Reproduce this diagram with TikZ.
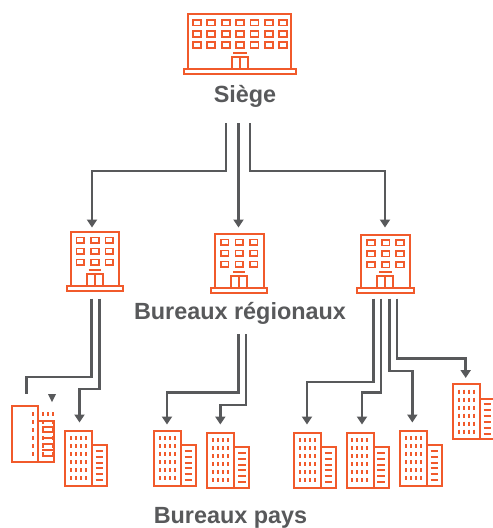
\documentclass[tikz,border=0pt]{standalone}
\usepackage{fontspec}
\setmainfont{Liberation Sans}
\usetikzlibrary{arrows.meta}
\definecolor{orng}{HTML}{F15A2B}
\definecolor{gry}{HTML}{58595B}
\tikzset{
  x=1pt,y=-1pt,
  ln/.style={draw=orng,line width=2pt},
  wn/.style={draw=orng,line width=1.8pt},
  dsh/.style={draw=orng,line width=2pt},
  conn/.style={draw=gry,line width=2.8pt,-{Triangle[length=8pt,width=10pt]}},
  plainconn/.style={draw=gry,line width=2.8pt},
  lab/.style={text=gry,font=\bfseries\fontsize{23.4}{25}\selectfont,inner sep=0pt},
}
% tower with annex; #1 name, #2 x, #3 y
\newcommand{\towerico}[3]{%
  \begin{scope}[shift={(#2,#3)}]
    \coordinate (#1) at (0,0);
    \draw[ln,line join=miter] (0,0) rectangle (27,55.3);
    \draw[ln] (27,14.5) rectangle (42,55.3);
    \foreach \cx in {5.7,10.7,15.7,20.7}
      \foreach \cy in {5.7,13.7,21.7,29.7,37.7,45.7}
        \draw[dsh] (\cx,\cy) -- (\cx,\cy+4);
    \foreach \cy in {20.3,26.1,31.8,37.6,43.5,49.6}
      \draw[dsh] (30.7,\cy) -- (38.2,\cy);
  \end{scope}}
% regional office
\newcommand{\regico}[3]{%
  \begin{scope}[shift={(#2,#3)}]
    \coordinate (#1) at (0,0);
    \draw[ln] (0,0) rectangle (48.6,53.4);
    \draw[ln] (-4,53.4) rectangle (52.3,58.4);
    \foreach \cx in {9.6,24.3,38.6}
      \foreach \cy in {8,19,30}
        \draw[wn] (\cx-3.9,\cy-2.8) rectangle (\cx+3.9,\cy+2.8);
    \draw[ln] (16,53.4) -- (16,41.7) -- (32,41.7) -- (32,53.4);
    \draw[ln] (24,41.7) -- (24,53.4);
    \draw[ln] (18,37.7) -- (30.3,37.7);
  \end{scope}}
\begin{document}
\begin{tikzpicture}
\useasboundingbox (0,0) rectangle (493,528);
\fill[white] (0,0) rectangle (493,528);
\begin{scope}
\clip (0,0) rectangle (493,528);
% headquarters
\coordinate (hq) at (188.3,14);
\draw[ln] (188.3,14) rectangle (290.7,69.3);
\draw[ln] (184.3,69.3) rectangle (295.7,74);
\foreach \cx in {197,211.3,225.7,240,254.4,268.8,283.2}
  \foreach \cy in {22.7,34,45}
    \draw[wn] (\cx-4,\cy-2.8) rectangle (\cx+4,\cy+2.8);
\draw[ln] (231.7,69.3) -- (231.7,56.7) -- (248.3,56.7) -- (248.3,69.3);
\draw[ln] (240,56.7) -- (240,69.3);
\draw[ln] (233.3,53) -- (246.7,53);
\regico{r1}{70.7}{232.3}
\regico{r2}{215}{234.3}
\regico{r3}{361.3}{234.7}
\towerico{t1}{65}{430.7}
\towerico{t2}{154}{430.7}
\towerico{t3}{207.3}{432.7}
\towerico{t4}{294}{432.7}
\towerico{t5}{346.7}{432.7}
\towerico{t6}{400}{430.7}
\towerico{t7}{453}{384}
% displaced tower
\draw[ln] (12,406) rectangle (38.3,462);
\draw[ln] (38.3,420.7) rectangle (54,462);
\foreach \cy in {412,420,428,436,444,452} \draw[dsh] (33,\cy) -- (33,\cy+4);
\foreach \cx in {42.7,47.7,52.7} \draw[dsh] (\cx,412) -- (\cx,416);
\foreach \cx in {42.7,52.7} \foreach \cy in {420,428,436,444,452} \draw[dsh] (\cx,\cy) -- (\cx,\cy+4);
\foreach \cy in {426.5,432.3,438,443.8,449.7,455.8} \draw[dsh] (42,\cy) -- (53,\cy);
% connectors
\coordinate (hqa) at (226,123); \coordinate (hqb) at (238.5,123); \coordinate (hqc) at (250,123);
\coordinate (ra) at (92,227.5); \coordinate (rb) at (238.5,227.5); \coordinate (rc) at (385,227.5);
\draw[conn] (hqa) |- (92,171) -- (ra);
\draw[conn] (hqb) -- (rb);
\draw[conn] (hqc) |- (385,171) -- (rc);
\coordinate (a1) at (91.7,298.7); \coordinate (a2) at (99.3,298.7);
\coordinate (e1) at (26.7,394); \coordinate (e2) at (79.5,422.5);
\draw[plainconn] (a1) |- (26.7,377) -- (e1);
\draw[conn] (a2) |- (79.5,389) -- (e2);
\fill[gry] (48,394) -- (56,394) -- (52,402) -- cycle;
\coordinate (b1) at (238.3,334); \coordinate (b2) at (246,334);
\coordinate (f1) at (167,424.5); \coordinate (f2) at (220.3,424.5);
\draw[conn] (b1) |- (167,392.3) -- (f1);
\draw[conn] (b2) |- (220.3,405) -- (f2);
\coordinate (c1) at (373.3,298.7); \coordinate (c2) at (381,298.7);
\coordinate (c3) at (389.3,298.7); \coordinate (c4) at (397,298.7);
\coordinate (g1) at (307,424.5); \coordinate (g2) at (362,424.5);
\coordinate (g3) at (412.3,422.5); \coordinate (g4) at (465.7,378);
\draw[conn] (c1) |- (307,382) -- (g1);
\draw[conn] (c2) |- (362,392.3) -- (g2);
\draw[conn] (c3) |- (412.3,371) -- (g3);
\draw[conn] (c4) |- (465.7,358.7) -- (g4);
\end{scope}
\node[lab] (siege) at (245,96.5) {Siège};
\node[lab] (reg) at (240,313.5) {Bureaux régionaux};
\node[lab] (pays) at (230.5,517.5) {Bureaux pays};
\end{tikzpicture}
\end{document}
